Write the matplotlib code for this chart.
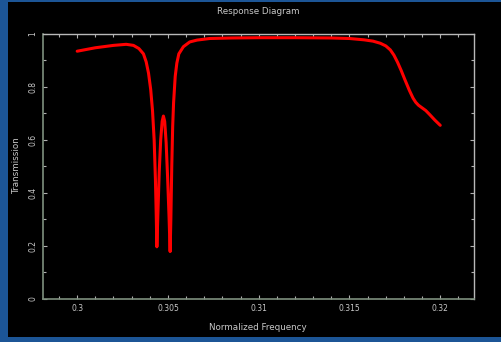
import matplotlib
matplotlib.use("Agg")
import matplotlib.pyplot as plt
from matplotlib.patches import Rectangle
from matplotlib.ticker import MultipleLocator, FixedLocator

# Transmission response read along the normalized frequency axis
freq = [
    0.3000, 0.3010, 0.3020, 0.3027, 0.3031, 0.3034, 0.30365, 0.3038, 0.30393,
    0.30405, 0.30415, 0.30424, 0.30431, 0.30436, 0.30439,
    0.30445, 0.30452, 0.30460, 0.30468, 0.30475, 0.30482, 0.30490, 0.30498,
    0.30506, 0.30512,
    0.30516, 0.30521, 0.30526, 0.30531, 0.30540, 0.30549, 0.30560, 0.30585,
    0.3062, 0.3066, 0.3073, 0.3085, 0.3100, 0.3120, 0.3140, 0.3150, 0.3158,
    0.3163, 0.3167, 0.3170, 0.31725, 0.31745, 0.31765, 0.31785, 0.31805,
    0.3183, 0.3185, 0.31865, 0.3188, 0.3190, 0.3192, 0.3194, 0.3197, 0.3200,
]
transmission = [
    0.935, 0.948, 0.957, 0.961, 0.957, 0.945, 0.925, 0.895, 0.852,
    0.790, 0.710, 0.600, 0.450, 0.300, 0.196,
    0.330, 0.480, 0.600, 0.670, 0.690, 0.670, 0.590, 0.460,
    0.310, 0.178,
    0.300, 0.500, 0.650, 0.740, 0.840, 0.890, 0.925, 0.952,
    0.970, 0.977, 0.983, 0.985, 0.986, 0.986, 0.985, 0.983, 0.978,
    0.973, 0.965, 0.955, 0.940, 0.920, 0.893, 0.862, 0.828,
    0.787, 0.758, 0.742, 0.731, 0.721, 0.711, 0.697, 0.675, 0.655,
]

x_ticks = [0.3, 0.305, 0.31, 0.315, 0.32]
x_tick_labels = ["0.3", "0.305", "0.31", "0.315", "0.32"]
y_ticks = [0, 0.2, 0.4, 0.6, 0.8, 1.0]
y_tick_labels = ["0", "0.2", "0.4", "0.6", "0.8", "1"]

W, H = 502, 342
fig = plt.figure(figsize=(W / 100, H / 100), dpi=100, facecolor="black")

# blue frame strips around the black panel
blue = "#1c5596"
fig.patches.append(Rectangle((0, 0), 8.5 / W, 1, transform=fig.transFigure,
                             facecolor=blue, edgecolor="none", zorder=0))
fig.patches.append(Rectangle((0, 1 - 1.5 / H), 1, 1.5 / H, transform=fig.transFigure,
                             facecolor=blue, edgecolor="none", zorder=0))
fig.patches.append(Rectangle((0, 0), 1, 5 / H, transform=fig.transFigure,
                             facecolor=blue, edgecolor="none", zorder=0))

left, right = 42.7 / W, 474 / W
bottom, top = (H - 298.7) / H, (H - 34) / H
ax = fig.add_axes([left, bottom, right - left, top - bottom])
ax.set_facecolor("black")

ax.plot(freq, transmission, color="#ff0000", lw=2.2, solid_joinstyle="round",
        solid_capstyle="round")

ax.set_xlim(0.2981, 0.32186)
ax.set_ylim(0, 1)

txt = "#c8c8c8"
ax.xaxis.set_major_locator(FixedLocator(x_ticks))
ax.set_xticklabels(x_tick_labels)
ax.xaxis.set_minor_locator(MultipleLocator(0.001))
ax.yaxis.set_major_locator(FixedLocator(y_ticks))
ax.set_yticklabels(y_tick_labels, rotation=90, va="center")
ax.yaxis.set_minor_locator(MultipleLocator(0.1))

ax.tick_params(which="both", direction="in", top=True, right=True,
               colors="#b0b0b0", labelcolor=txt, labelsize=5.5, width=0.8)
ax.tick_params(which="major", length=3.0, pad=4)
ax.tick_params(which="minor", length=2.2)

for side in ("left", "bottom"):
    ax.spines[side].set_color("#7d8f7d")
    ax.spines[side].set_linewidth(1.2)
for side in ("top", "right"):
    ax.spines[side].set_color("#b8b8b8")
    ax.spines[side].set_linewidth(1.0)

fig.text(258 / W, 1 - 12 / H, "Response Diagram", color=txt, fontsize=6.3,
         ha="center", va="center")
fig.text(258 / W, 1 - 327.5 / H, "Normalized Frequency", color=txt, fontsize=6.3,
         ha="center", va="center")
fig.text(16.5 / W, 1 - 166 / H, "Transmission", color=txt, fontsize=6.3,
         ha="center", va="center", rotation=90)

fig.savefig("out.png", dpi=100, facecolor="black")
